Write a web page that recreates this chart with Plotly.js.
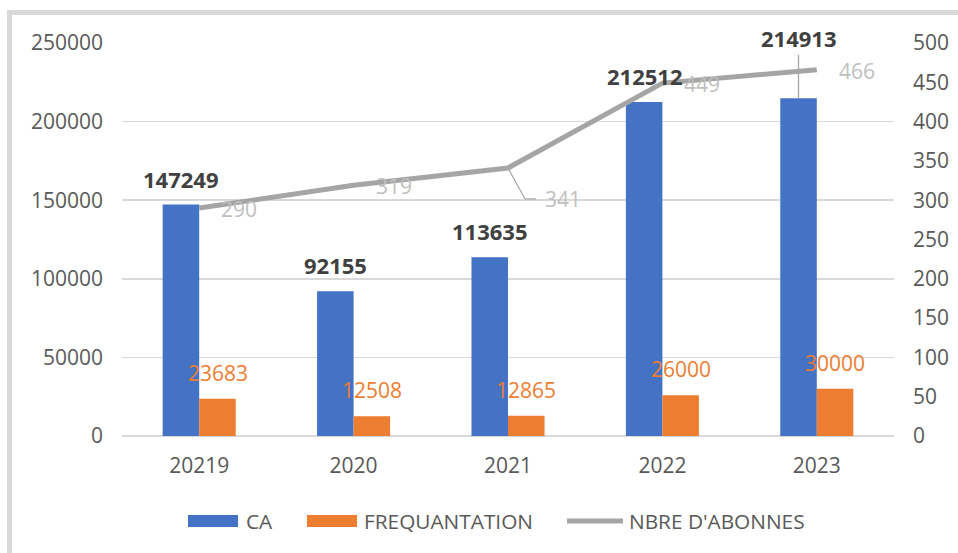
<!DOCTYPE html>
<html>
<head>
<meta charset="utf-8">
<script src="https://cdn.plot.ly/plotly-3.0.1.min.js"></script>
<style>
  html, body { margin: 0; padding: 0; background: #ffffff; }
  #wrap { position: relative; width: 958px; height: 553px; overflow: hidden; }
  #chart { position: absolute; left: 0; top: 0; width: 958px; height: 553px; }
  #frame { position: absolute; left: 7px; top: 10px; right: -20px; bottom: -20px;
           border-left: 5px solid #d9d9d9; border-top: 5px solid #d9d9d9; pointer-events: none; }
</style>
</head>
<body>
<div id="wrap">
  <div id="chart"></div>
  <div id="frame"></div>
</div>
<script>
// ---- data ----
const years = ['20219', '2020', '2021', '2022', '2023'];
const caValues = [147249, 92155, 113635, 212512, 214913];
const freqValues = [23683, 12508, 12865, 26000, 30000];
const abonnesValues = [290, 319, 341, 449, 466];
const seriesNames = ['CA', 'FREQUANTATION', "NBRE D'ABONNES"];

// ---- styles ----
const FONT = 'Open Sans, Noto Sans, DejaVu Sans, sans-serif';
const BLUE = '#4472c4', ORANGE = '#ed7d31', GRAYLINE = '#a5a5a5';
const TICKCOL = '#595959', GRID = '#d9d9d9';
const W = 958, H = 553, ML = 122, MR = 64, MT = 43, MB = 117;
const PW = W - ML - MR, PH = H - MT - MB;
const px2paperX = p => (p - ML) / PW;
const px2paperY = p => (H - MB - p) / PH;

const traces = [
  { type: 'bar', name: seriesNames[0], x: years, y: caValues, marker: { color: BLUE }, hoverinfo: 'skip', showlegend: false },
  { type: 'bar', name: seriesNames[1], x: years, y: freqValues, marker: { color: ORANGE }, hoverinfo: 'skip', showlegend: false },
  { type: 'scatter', mode: 'lines', name: seriesNames[2], x: years, y: abonnesValues, yaxis: 'y2',
    line: { color: GRAYLINE, width: 5 }, hoverinfo: 'skip', showlegend: false }
];

const annotations = [];
const BAR_OFF = 18.3;
years.forEach((yr, i) => {
  const last = i === years.length - 1;
  const a = {
    x: i, y: caValues[i], xref: 'x', yref: 'y', text: String(caValues[i]),
    xshift: -BAR_OFF, yshift: 26, showarrow: false,
    font: { family: FONT, size: 22, color: '#404040', weight: 'bold' }
  };
  if (last) {
    a.yshift = 0; a.showarrow = true; a.ax = 0; a.ay = -60; a.arrowhead = 0;
    a.arrowwidth = 1.3; a.arrowcolor = '#a6a6a6'; a.standoff = 0;
  }
  annotations.push(a);
  annotations.push({
    x: i, y: freqValues[i], xref: 'x', yref: 'y', text: String(freqValues[i]),
    xshift: BAR_OFF, yshift: 26, showarrow: false,
    font: { family: FONT, size: 21, color: ORANGE }
  });
  const special = i === 2;
  annotations.push({
    x: i, y: abonnesValues[i], xref: 'x', yref: 'y2', text: String(abonnesValues[i]),
    xshift: special ? 55 : 40, yshift: special ? -31 : -1, showarrow: false,
    font: { family: FONT, size: 21, color: '#bfbfbf' }
  });
});

const shapes = [{
  type: 'path', xref: 'x', yref: 'y2', xsizemode: 'pixel', ysizemode: 'pixel',
  xanchor: 2, yanchor: abonnesValues[2],
  path: 'M0,0 L17,-31 L28,-31', line: { color: '#a6a6a6', width: 1.3 }
}];

// ---- custom legend (wide swatches as in the reference) ----
const legendItems = [
  { name: seriesNames[0], color: BLUE, kind: 'rect', x0: 188, x1: 238, tx: 244 },
  { name: seriesNames[1], color: ORANGE, kind: 'rect', x0: 307, x1: 357, tx: 362 },
  { name: seriesNames[2], color: GRAYLINE, kind: 'line', x0: 567, x1: 623, tx: 627 }
];
const LEG_Y = 521;
legendItems.forEach(it => {
  if (it.kind === 'rect') {
    shapes.push({ type: 'rect', xref: 'paper', yref: 'paper',
      x0: px2paperX(it.x0), x1: px2paperX(it.x1), y0: px2paperY(LEG_Y + 6), y1: px2paperY(LEG_Y - 6),
      fillcolor: it.color, line: { width: 0 } });
  } else {
    shapes.push({ type: 'line', xref: 'paper', yref: 'paper',
      x0: px2paperX(it.x0), x1: px2paperX(it.x1), y0: px2paperY(LEG_Y), y1: px2paperY(LEG_Y),
      line: { color: it.color, width: 5 } });
  }
  annotations.push({ xref: 'paper', yref: 'paper', x: px2paperX(it.tx), y: px2paperY(LEG_Y),
    xanchor: 'left', yanchor: 'middle', showarrow: false, text: it.name,
    font: { family: FONT, size: 20.8, color: TICKCOL } });
});

const layout = {
  width: W, height: H,
  margin: { l: ML, r: MR, t: MT, b: MB },
  paper_bgcolor: '#ffffff', plot_bgcolor: '#ffffff',
  font: { family: FONT, size: 21, color: TICKCOL },
  barmode: 'group', bargap: 0.527, bargroupgap: 0,
  showlegend: false,
  xaxis: {
    type: 'category', range: [-0.5, years.length - 0.5], autorange: false,
    showgrid: false, zeroline: false, showline: false, ticks: '',
    ticklabelstandoff: 15, tickfont: { family: FONT, size: 21, color: TICKCOL }
  },
  yaxis: {
    range: [0, 250000], dtick: 50000, tickformat: 'd', showgrid: true, gridcolor: GRID, gridwidth: 1.5,
    zeroline: true, zerolinecolor: GRID, zerolinewidth: 1.5, showline: false, ticks: '',
    ticklabelstandoff: 18, tickfont: { family: FONT, size: 21, color: TICKCOL }
  },
  yaxis2: {
    range: [0, 500], dtick: 50, overlaying: 'y', side: 'right', showgrid: false, zeroline: false,
    showline: false, ticks: '', ticklabelstandoff: 18, tickfont: { family: FONT, size: 21, color: TICKCOL }
  },
  annotations: annotations,
  shapes: shapes,
  hovermode: false
};

Plotly.newPlot('chart', traces, layout, { displayModeBar: false, staticPlot: true });
</script>
</body>
</html>
